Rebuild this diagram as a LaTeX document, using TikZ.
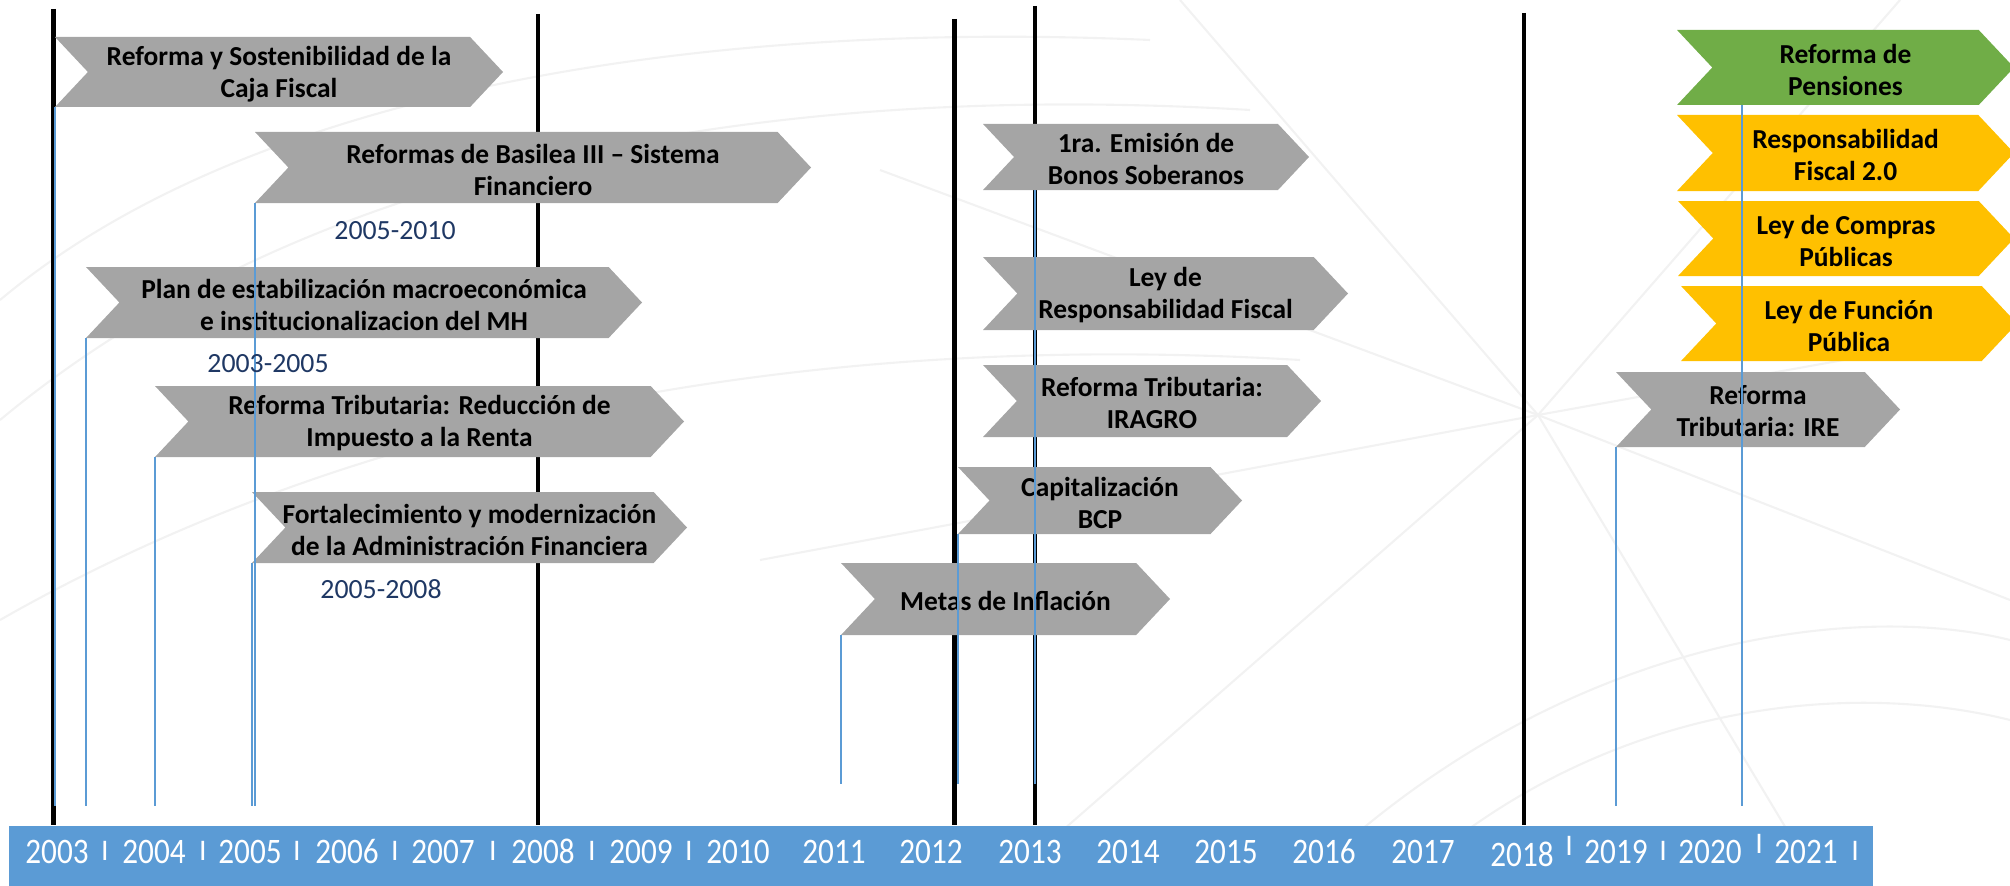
\documentclass[tikz,border=0pt]{standalone}
\usepackage{fontspec}
\setmainfont{Carlito}
\newfontfamily\yearfont[FakeStretch=0.87]{Carlito}
\usepackage{tikz}
\definecolor{gris}{HTML}{A5A5A5}
\definecolor{verde}{HTML}{70AD47}
\definecolor{amarillo}{HTML}{FFC000}
\definecolor{azul}{HTML}{5B9BD5}
\definecolor{marino}{HTML}{1F3864}
\definecolor{tenue}{HTML}{F2F2F2}

% chevron: name, left, tip, top, bottom, colour, text
\newcommand{\chevron}[7]{%
  \fill[#6] (#2,#4) -- ({#3-0.47*(#5-#4)},#4) -- (#3,{(#4+#5)/2}) -- ({#3-0.47*(#5-#4)},#5) -- (#2,#5) -- ({#2+0.47*(#5-#4)},{(#4+#5)/2}) -- cycle;
  \coordinate (#1-sw) at (#2,#5);
  \node[evento] (#1) at ({(#2+#3)/2},{(#4+#5)/2+2}) {#7};
}

\begin{document}
\begin{tikzpicture}[x=0.01cm, y=-0.01cm,
  evento/.style={align=center, inner sep=0pt, font=\bfseries\fontsize{7.8}{9.1}\selectfont},
  anio/.style={line width=1.2pt, black},
  guia/.style={azul, line width=0.35pt},
  fecha/.style={marino, font=\fontsize{7.9}{9}\selectfont},
  year/.style={white, anchor=base, font=\yearfont\fontsize{10.2}{12}\selectfont},
  sep/.style={white, anchor=base, font=\fontsize{8.5}{9}\selectfont},
  fondo/.style={tenue, line width=0.6pt}]
\useasboundingbox (0,0) rectangle (2010,885);

% faint background
\coordinate (p) at (1538,415);
\draw[fondo] (p) -- (1180,0);
\draw[fondo] (p) -- (880,170);
\draw[fondo] (p) -- (760,560);
\draw[fondo] (p) -- (1000,885);
\draw[fondo] (p) -- (1820,885);
\draw[fondo] (p) -- (2010,600);
\draw[fondo] (p) -- (2010,330);
\draw[fondo] (p) -- (1900,0);
\draw[fondo] (0,300) .. controls (250,90) and (700,20) .. (1150,40);
\draw[fondo] (0,420) .. controls (300,170) and (750,80) .. (1250,110);
\draw[fondo] (0,620) .. controls (350,420) and (800,330) .. (1300,360);
\draw[fondo] (1400,885) .. controls (1600,700) and (1850,680) .. (2010,720);
\draw[fondo] (1300,885) .. controls (1550,640) and (1850,600) .. (2010,640);

\node[fill=azul, minimum width=18.62cm, minimum height=0.62cm, inner sep=0pt] (bar) at (941,857) {};
\coordinate (pie) at (0,806);
\coordinate (pie2) at (0,784);

% year lines
\coordinate (lA) at (53.5,9);
\coordinate (lB) at (538,14);
\coordinate (lC) at (954.5,19);
\coordinate (lD) at (1035,6);
\coordinate (lE) at (1524,13);
\draw[anio] (lA) -- (lA |- bar.north);
\draw[anio] (lB) -- (lB |- bar.north);
\draw[anio] (lC) -- (lC |- bar.north);
\draw[anio] (lD) -- (lD |- bar.north);
\draw[anio] (lE) -- (lE |- bar.north);

\chevron{caja}{55}{503}{37}{107}{gris}{Reforma y Sostenibilidad de la\\Caja Fiscal}
\chevron{basilea}{255}{811}{132}{203}{gris}{Reformas de Basilea III -- Sistema\\Financiero}
\chevron{plan}{86}{642}{267}{338}{gris}{Plan de estabilización macroeconómica\\e institucionalizacion del MH}
\chevron{renta}{155}{684}{386}{457}{gris}{Reforma Tributaria: Reducción de\\Impuesto a la Renta}
\chevron{admin}{252}{687}{492}{563}{gris}{Fortalecimiento y modernización\\de la Administración Financiera}
\chevron{bonos}{983}{1309}{124}{190}{gris}{1ra. Emisión de\\Bonos Soberanos}
\chevron{lrf}{983}{1348}{257}{330}{gris}{Ley de\\Responsabilidad Fiscal}
\chevron{iragro}{983}{1321}{365}{437}{gris}{Reforma Tributaria:\\IRAGRO}
\chevron{bcp}{958}{1242}{467}{534}{gris}{Capitalización\\BCP}
\chevron{metas}{841}{1170}{563}{635}{gris}{Metas de Inflación}
\chevron{pensiones}{1677}{2014}{30}{105}{verde}{Reforma de\\Pensiones}
\chevron{rf2}{1677}{2014}{115}{191}{amarillo}{Responsabilidad\\Fiscal 2.0}
\chevron{compras}{1678}{2014}{201}{276}{amarillo}{Ley de Compras\\Públicas}
\chevron{funcion}{1681}{2017}{286}{361}{amarillo}{Ley de Función\\Pública}
\chevron{ire}{1616}{1900}{372}{447}{gris}{Reforma\\Tributaria: IRE}

% leaders
\coordinate (pens) at (1742,105);
\draw[guia] (caja-sw) -- (caja-sw |- pie);
\draw[guia] (plan-sw) -- (plan-sw |- pie);
\draw[guia] (renta-sw) -- (renta-sw |- pie);
\draw[guia] (basilea-sw) -- (basilea-sw |- pie);
\draw[guia] (admin-sw) -- (admin-sw |- pie);
\draw[guia] (metas-sw) -- (metas-sw |- pie2);
\draw[guia] (bcp-sw) -- (bcp-sw |- pie2);
\draw[guia] (bonos-sw -| lD) -- (lD |- pie2);
\draw[guia] (ire-sw) -- (ire-sw |- pie);
\draw[guia] (pens) -- (pens |- pie);

\node[fecha] (f1) at (395,231) {2005-2010};
\node[fecha] (f2) at (268,364) {2003-2005};
\node[fecha] (f3) at (381,589) {2005-2008};

\node[year] (y03) at (57,863) {2003};
\node[year] (y04) at (154,863) {2004};
\node[year] (y05) at (250,863) {2005};
\node[year] (y06) at (347,863) {2006};
\node[year] (y07) at (443,863) {2007};
\node[year] (y08) at (543,863) {2008};
\node[year] (y09) at (641,863) {2009};
\node[year] (y10) at (738,863) {2010};
\node[year] (y11) at (834,863) {2011};
\node[year] (y12) at (931,863) {2012};
\node[year] (y13) at (1030,863) {2013};
\node[year] (y14) at (1128,863) {2014};
\node[year] (y15) at (1226,863) {2015};
\node[year] (y16) at (1324,863) {2016};
\node[year] (y17) at (1423,863) {2017};
\node[year] (y18) at (1522,866) {2018};
\node[year] (y19) at (1616,863) {2019};
\node[year] (y20) at (1710,863) {2020};
\node[year] (y21) at (1806,863) {2021};
\node[sep] (s1) at (105,860) {I};
\node[sep] (s2) at (203,860) {I};
\node[sep] (s3) at (297,860) {I};
\node[sep] (s4) at (395,860) {I};
\node[sep] (s5) at (493,860) {I};
\node[sep] (s6) at (592,860) {I};
\node[sep] (s7) at (689,860) {I};
\node[sep] (s8) at (1569,855) {I};
\node[sep] (s9) at (1663,860) {I};
\node[sep] (s10) at (1759,853) {I};
\node[sep] (s11) at (1855,860) {I};

\end{tikzpicture}
\end{document}
